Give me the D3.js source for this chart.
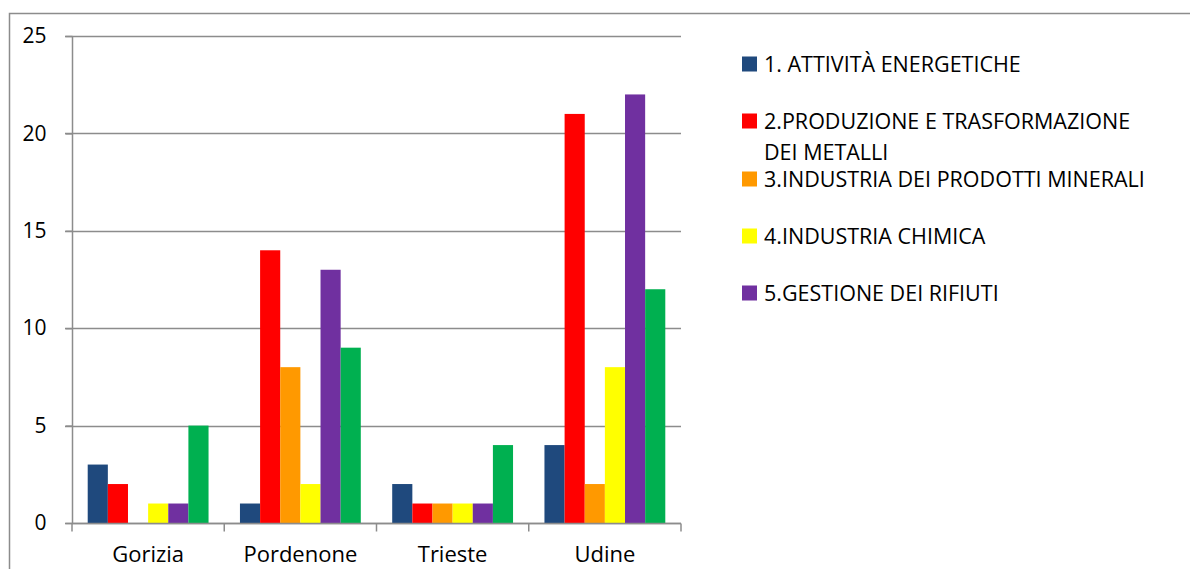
<!DOCTYPE html>
<html>
<head>
<meta charset="utf-8">
<script src="https://cdn.jsdelivr.net/npm/d3@7"></script>
<style>
  body { margin: 0; background: #fff; }
  svg { display: block; font-family: "Open Sans", "Liberation Sans", sans-serif; }
</style>
</head>
<body>
<script>
const width = 1190;
const height = 569;

const provinces = ["Gorizia", "Pordenone", "Trieste", "Udine"];
const seriesNames = [
  "1. ATTIVITÀ ENERGETICHE",
  "2.PRODUZIONE E TRASFORMAZIONE DEI METALLI",
  "3.INDUSTRIA DEI PRODOTTI MINERALI",
  "4.INDUSTRIA CHIMICA",
  "5.GESTIONE DEI RIFIUTI",
  "6.ALTRE ATTIVITÀ"
];
const seriesColors = ["#1f497d", "#ff0000", "#ff9900", "#ffff00", "#7030a0", "#00b050"];
// one array per series, in province order
const energetiche = [3, 1, 2, 4];
const metalli = [2, 14, 1, 21];
const minerali = [0, 8, 1, 2];
const chimica = [1, 2, 1, 8];
const rifiuti = [1, 13, 1, 22];
const altre = [5, 9, 4, 12];
const yTicks = [0, 5, 10, 15, 20, 25];
// legend lines as they wrap in the original (6th entry is cut off)
const legendLines = [
  ["1. ATTIVITÀ ENERGETICHE"],
  ["2.PRODUZIONE E TRASFORMAZIONE", "DEI METALLI"],
  ["3.INDUSTRIA DEI PRODOTTI MINERALI"],
  ["4.INDUSTRIA CHIMICA"],
  ["5.GESTIONE DEI RIFIUTI"]
];

const values = [energetiche, metalli, minerali, chimica, rifiuti, altre];
const table = provinces.map((p, i) => ({
  province: p,
  bars: values.map((v, s) => ({ series: s, value: v[i] }))
}));

const margin = { top: 36, left: 72, right: 509, bottom: 46 };

let svg = d3.select("body").append("svg")
  .attr("width", width)
  .attr("height", height);

// outer chart frame (cropped at right and bottom)
svg.append("path")
  .attr("d", `M9.5,${height + 5} V13.5 H${width + 5}`)
  .attr("fill", "none")
  .attr("stroke", "#8c8c8c")
  .attr("stroke-width", 1.5);

let x0 = d3.scaleBand()
  .domain(provinces)
  .range([margin.left, width - margin.right]);

let x1 = d3.scaleBand()
  .domain(d3.range(seriesNames.length))
  .range([0, x0.bandwidth()])
  .paddingOuter(0.78)
  .paddingInner(0);

let y = d3.scaleLinear()
  .domain([0, 25])
  .range([height - margin.bottom, margin.top]);

// gridlines
svg.append("g")
  .selectAll("line")
  .data(yTicks)
  .join("line")
  .attr("x1", margin.left - 7)
  .attr("x2", width - margin.right)
  .attr("y1", (d) => Math.round(y(d)) + 0.5)
  .attr("y2", (d) => Math.round(y(d)) + 0.5)
  .attr("stroke", "#8c8c8c")
  .attr("stroke-width", 1.5);

// bars
svg.append("g")
  .selectAll("g")
  .data(table)
  .join("g")
  .attr("transform", (d) => `translate(${x0(d.province)},0)`)
  .selectAll("rect")
  .data((d) => d.bars)
  .join("rect")
  .attr("x", (d) => x1(d.series))
  .attr("width", x1.bandwidth())
  .attr("y", (d) => y(d.value))
  .attr("height", (d) => y(0) - y(d.value))
  .attr("fill", (d) => seriesColors[d.series]);

// y axis
let leftAxis = d3.axisLeft(y).tickValues(yTicks).tickSize(7).tickPadding(19);
let leftContainer = svg.append("g")
  .attr("transform", `translate(${margin.left + 0.5},0)`)
  .call(leftAxis)
  .attr("font-family", null)
  .attr("font-size", null);
leftContainer.select(".domain").remove();
leftContainer.append("line")
  .attr("y1", y(25)).attr("y2", y(0) + 1)
  .attr("stroke", "#8c8c8c").attr("stroke-width", 1.5);
leftContainer.selectAll(".tick line").attr("stroke", "#8c8c8c").attr("stroke-width", 1.5);
leftContainer.selectAll(".tick text")
  .style("font-size", "21px")
  .attr("fill", "#000");

// x axis
let bottomContainer = svg.append("g")
  .attr("transform", `translate(0,${Math.round(y(0)) + 0.5})`);
bottomContainer.append("line")
  .attr("x1", margin.left).attr("x2", width - margin.right)
  .attr("stroke", "#8c8c8c").attr("stroke-width", 1.5);
let catTicks = provinces.map((p) => x0(p)).concat([width - margin.right]);
bottomContainer.selectAll(".cat-tick")
  .data(catTicks)
  .join("line")
  .attr("class", "cat-tick")
  .attr("x1", (d) => d).attr("x2", (d) => d)
  .attr("y1", 0).attr("y2", 8)
  .attr("stroke", "#8c8c8c").attr("stroke-width", 1.5);
bottomContainer.selectAll(".cat-label")
  .data(provinces)
  .join("text")
  .attr("class", "cat-label")
  .attr("x", (d) => x0(d) + x0.bandwidth() / 2)
  .attr("y", 31)
  .attr("dy", "0.35em")
  .attr("text-anchor", "middle")
  .style("font-size", "22px")
  .text((d) => d);

// legend
let legend = svg.append("g");
let rowY = [64, 121, 179, 236, 293];
let item = legend.selectAll("g")
  .data(legendLines)
  .join("g")
  .attr("transform", (d, i) => `translate(742,${rowY[i]})`);
item.append("rect")
  .attr("x", 0).attr("y", -7.5)
  .attr("width", 15).attr("height", 15)
  .attr("fill", (d, i) => seriesColors[i]);
item.append("text")
  .attr("x", 22)
  .style("font-size", "21.5px")
  .selectAll("tspan")
  .data((d) => d)
  .join("tspan")
  .attr("x", 22)
  .attr("y", (d, j) => j * 31)
  .attr("dy", "0.35em")
  .text((d) => d);
</script>
</body>
</html>
